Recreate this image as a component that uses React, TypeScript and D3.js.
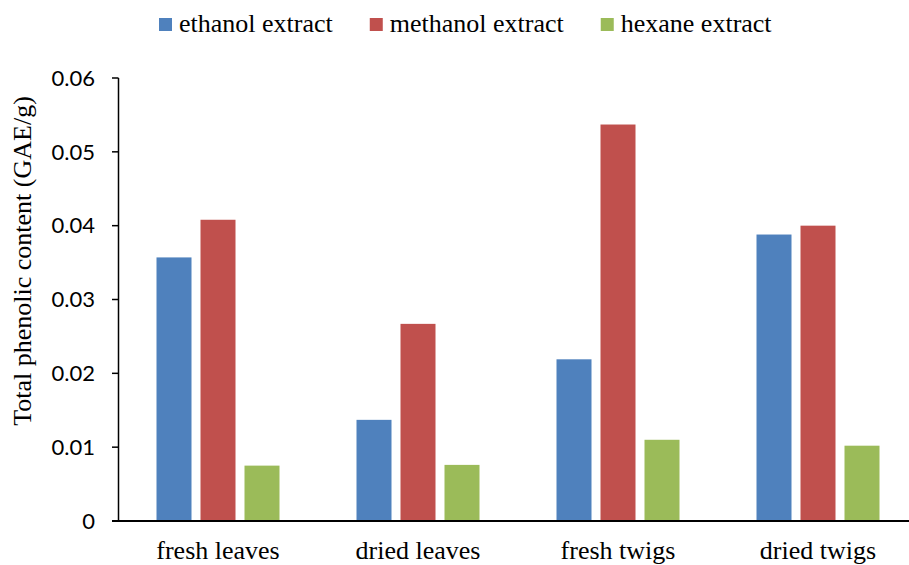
import React, { useEffect, useRef } from "react";
import * as d3 from "d3";

const categories = ["fresh leaves", "dried leaves", "fresh twigs", "dried twigs"];
const seriesNames = ["ethanol extract", "methanol extract", "hexane extract"];
const ethanol = [0.0357, 0.0137, 0.0219, 0.0388];
const methanol = [0.0408, 0.0267, 0.0537, 0.04];
const hexane = [0.0075, 0.0076, 0.011, 0.0102];
const yTicks = [0, 0.01, 0.02, 0.03, 0.04, 0.05, 0.06];
const yTickLabels = ["0", "0.01", "0.02", "0.03", "0.04", "0.05", "0.06"];
const yLabel = "Total phenolic content (GAE/g)";
const colors = ["#4F81BD", "#C0504D", "#9BBB59"];

const W = 909;
const H = 565;
const serif = "'Liberation Serif', 'Times New Roman', serif";
const sans = "Lato, 'Open Sans', sans-serif";

export default function App() {
  const ref = useRef<SVGSVGElement | null>(null);

  useEffect(() => {
    const svg = d3.select(ref.current);
    svg.selectAll("*").remove();

    const values = [ethanol, methanol, hexane];
    const x0 = d3.scaleBand<string>().domain(categories).range([118, 918]).paddingInner(0.34).paddingOuter(0.17);
    const x1 = d3
      .scaleBand<string>()
      .domain(seriesNames)
      .range([0, x0.bandwidth()])
      .paddingInner(9 / 44)
      .paddingOuter(9 / 88);
    const y = d3.scaleLinear().domain([0, 0.06]).range([521, 78]);

    // bars
    const g = svg.append("g");
    categories.forEach((c, ci) => {
      seriesNames.forEach((s, si) => {
        const v = values[si][ci];
        g.append("rect")
          .attr("x", (x0(c) as number) + (x1(s) as number))
          .attr("y", y(v))
          .attr("width", x1.bandwidth())
          .attr("height", y(0) - y(v))
          .attr("fill", colors[si]);
      });
    });

    // y axis
    svg.append("line").attr("x1", 118.5).attr("x2", 118.5).attr("y1", y(0.06)).attr("y2", y(0)).attr("stroke", "#000").attr("stroke-width", 1.5);
    yTicks.forEach((t, i) => {
      svg.append("line").attr("x1", 112).attr("x2", 118.5).attr("y1", y(t)).attr("y2", y(t)).attr("stroke", "#000").attr("stroke-width", 1.5);
      svg
        .append("text")
        .attr("x", 95)
        .attr("y", y(t))
        .attr("dy", "0.35em")
        .attr("text-anchor", "end")
        .attr("font-family", sans)
        .attr("font-size", 22)
        .attr("fill", "#000")
        .text(yTickLabels[i]);
    });

    // x axis
    svg.append("line").attr("x1", 112).attr("x2", W).attr("y1", y(0)).attr("y2", y(0)).attr("stroke", "#000").attr("stroke-width", 2);
    categories.forEach((c) => {
      svg
        .append("text")
        .attr("x", (x0(c) as number) + x0.bandwidth() / 2)
        .attr("y", 559)
        .attr("text-anchor", "middle")
        .attr("font-family", serif)
        .attr("font-size", 26)
        .attr("fill", "#000")
        .text(c);
    });

    // y label
    svg
      .append("text")
      .attr("transform", `translate(31,261) rotate(-90)`)
      .attr("text-anchor", "middle")
      .attr("font-family", serif)
      .attr("font-size", 26)
      .attr("fill", "#000")
      .text(yLabel);

    // legend
    let lx = 159;
    seriesNames.forEach((s, si) => {
      svg.append("rect").attr("x", lx).attr("y", 18).attr("width", 13).attr("height", 13).attr("fill", colors[si]);
      const t = svg
        .append("text")
        .attr("x", lx + 20)
        .attr("y", 32)
        .attr("font-family", serif)
        .attr("font-size", 26)
        .attr("fill", "#000")
        .text(s);
      const w = (t.node() as SVGTextElement).getComputedTextLength();
      lx = lx + 20 + w + 37;
    });
  }, []);

  return (
    <svg
      ref={ref}
      width={W}
      height={H}
      style={{ position: "absolute", left: 0, top: 0, background: "#fff" }}
    />
  );
}
